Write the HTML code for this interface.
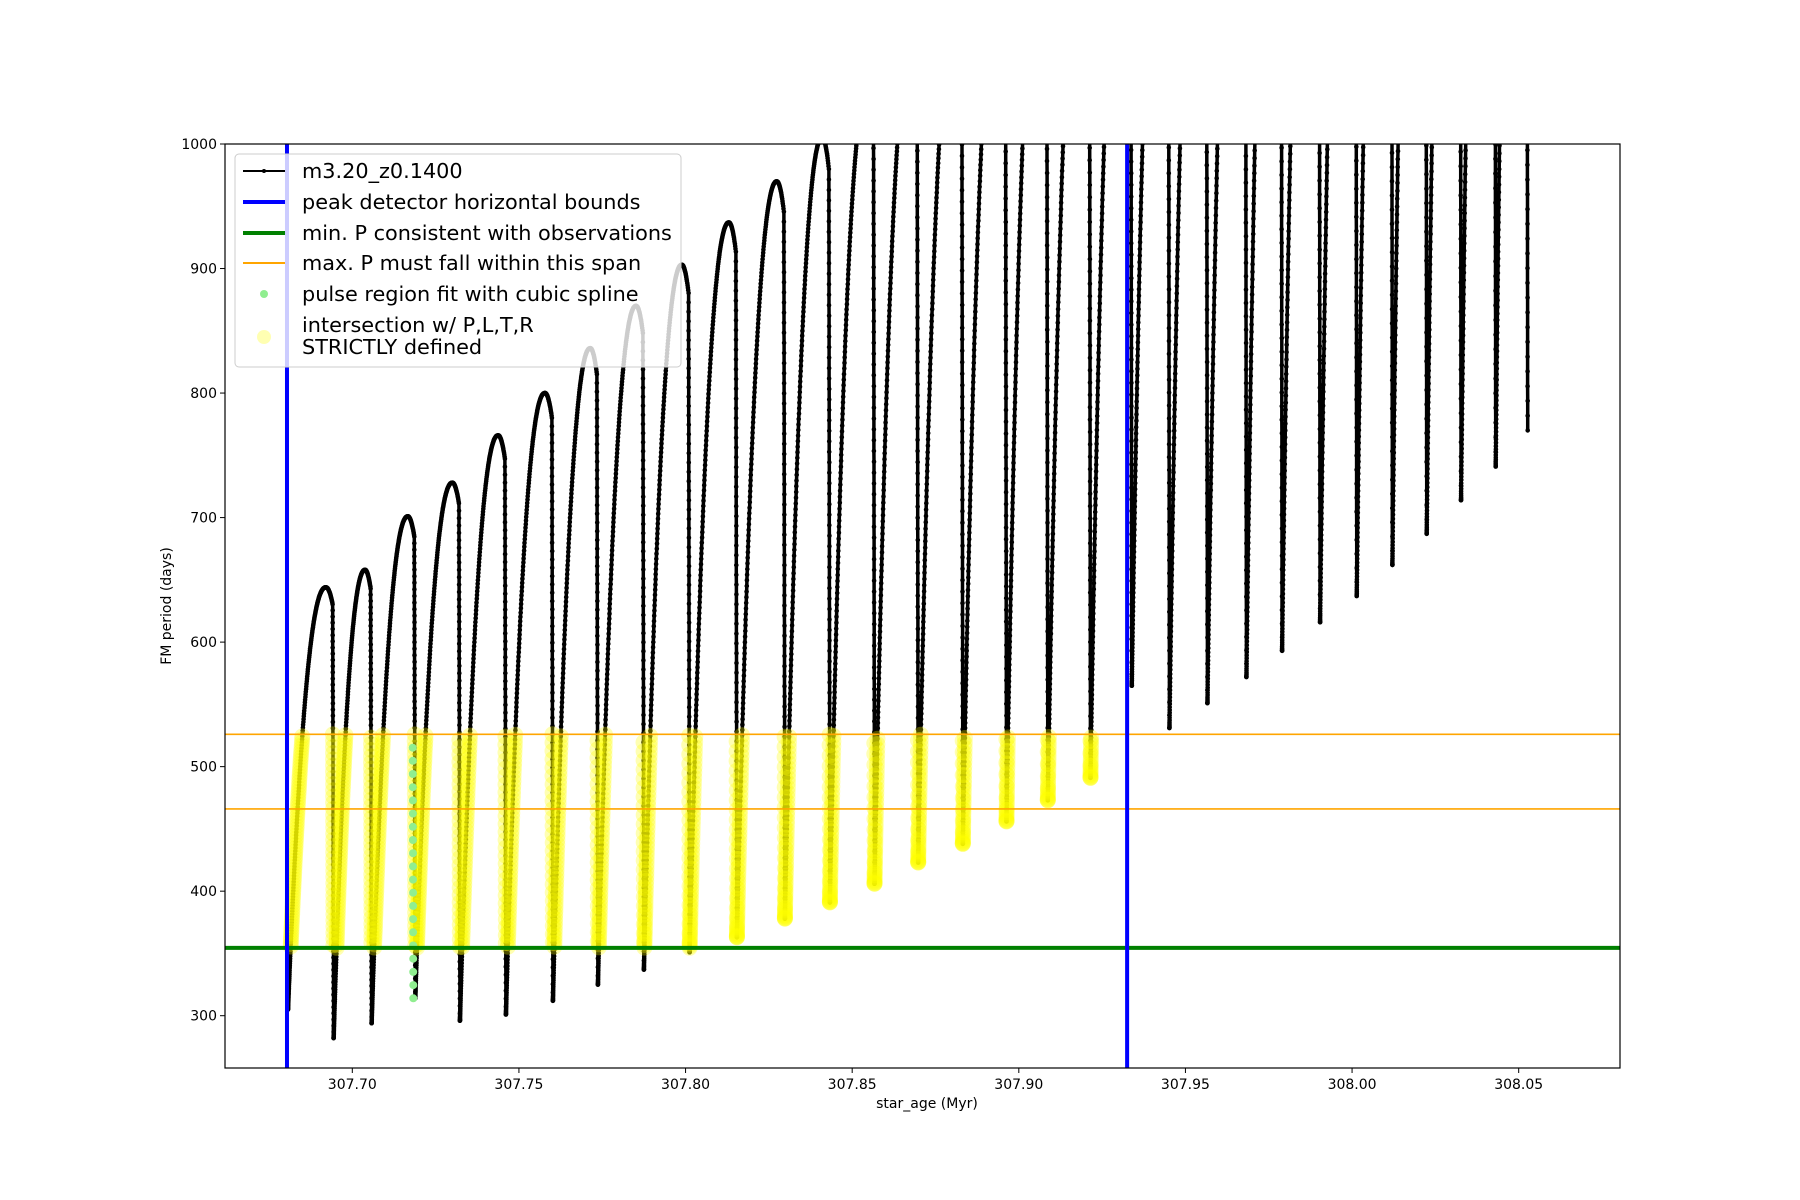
<!DOCTYPE html>
<html><head><meta charset="utf-8"><style>
html,body{margin:0;padding:0;background:#fff;}
svg{display:block;font-family:"DejaVu Sans","Liberation Sans",sans-serif;}
</style></head><body>
<svg id="chart" width="1800" height="1200" viewBox="0 0 1800 1200">
<defs><clipPath id="plotclip"><rect x="225" y="144" width="1395" height="924"/></clipPath></defs>
<rect x="0" y="0" width="1800" height="1200" fill="#fff"/>
<g id="marks" clip-path="url(#plotclip)"></g>
<rect x="225" y="144" width="1395" height="924" fill="none" stroke="#000" stroke-width="1.2"/>
<g id="axes"></g>
<text x="927" y="1108" text-anchor="middle" font-size="14">star_age (Myr)</text>
<text x="0" y="0" transform="translate(171,606) rotate(-90)" text-anchor="middle" font-size="14">FM period (days)</text>
<g>
<rect x="235" y="154" width="446" height="213" rx="4" fill="rgba(255,255,255,0.8)" stroke="#ccc" stroke-width="1"/>
<g><line x1="243" y1="171" x2="285" y2="171" stroke="#000" stroke-width="2"/><circle cx="264" cy="171" r="2" fill="#000"/><text x="302" y="178" font-size="20.8">m3.20_z0.1400</text></g>
<g><line x1="243" y1="202" x2="285" y2="202" stroke="#0000ff" stroke-width="4"/><text x="302" y="209" font-size="20.8">peak detector horizontal bounds</text></g>
<g><line x1="243" y1="233" x2="285" y2="233" stroke="#008000" stroke-width="4"/><text x="302" y="240" font-size="20.8">min. P consistent with observations</text></g>
<g><line x1="243" y1="263" x2="285" y2="263" stroke="#ffa500" stroke-width="2"/><text x="302" y="270" font-size="20.8">max. P must fall within this span</text></g>
<g><circle cx="264" cy="294" r="4" fill="#90ee90"/><text x="302" y="301" font-size="20.8">pulse region fit with cubic spline</text></g>
<g><circle cx="264" cy="337" r="7" fill="#ffff00" opacity="0.3"/><text x="302" y="332" font-size="20.8">intersection w/ P,L,T,R</text><text x="302" y="354" font-size="20.8">STRICTLY defined</text></g>
</g>
</svg>
<script>
const dropAges=[307.6804,307.6941,307.7055,307.7186,307.7320,307.7458,307.7599,307.7734,307.7872,307.8009,307.8151,307.8295,307.8430,307.8564,307.8695,307.8829,307.8960,307.9084,307.9212,307.9336,307.9449,307.9563,307.9680,307.9787,307.9901,308.0011,308.0118,308.0221,308.0324,308.0428,308.0524];
const minPeriods=[305,282,294,314,296,301,312,325,337,351,363,378,391,406,423,438,456,473,491,565,531,551,572,593,616,637,662,687,714,741,770];
const peakPeriods=[644,658,701,728,766,800,836,870,903,937,970,1005,1040,1075,1110,1145,1180,1215,1250,1285,1320,1355,1390,1425,1460,1495,1530,1565,1600,1635];
const xTicks=[307.70,307.75,307.80,307.85,307.90,307.95,308.00,308.05];
const xTickLabels=["307.70","307.75","307.80","307.85","307.90","307.95","308.00","308.05"];
const yTicks=[300,400,500,600,700,800,900,1000];
const boundAges=[307.6804,307.9325];
const minP=[354.5];
const maxPSpan=[466,526];
const splineCycle=[3];

const NS="http://www.w3.org/2000/svg";
const X0=225,X1=1620,Y0=144,Y1=1068;
const xmin=307.6618,xmax=308.0804,ymin=258,ymax=1000;
const sx=a=>X0+(a-xmin)/(xmax-xmin)*(X1-X0);
const sy=v=>Y1-(v-ymin)/(ymax-ymin)*(Y1-Y0);
function mk(tag,attrs,parent){const e=document.createElementNS(NS,tag);for(const k in attrs)e.setAttribute(k,attrs[k]);parent.appendChild(e);return e;}
const marks=document.getElementById('marks');
const axes=document.getElementById('axes');

const pts=[];
function f(u){if(u<0.85)return 1-Math.pow(1-u/0.85,2.2);const w=(u-0.85)/0.15;return 1-0.04*w*w;}
let prevEnd=null;
for(let i=0;i<dropAges.length;i++){
  const t=dropAges[i],m=minPeriods[i];
  if(prevEnd!==null){
    const n=70;
    for(let k=1;k<=n;k++){pts.push({a:t+0.0003*k/n,v:prevEnd+(m-prevEnd)*k/n,cyc:i,drop:true});}
  }
  if(i<dropAges.length-1){
    const t2=dropAges[i+1],p=peakPeriods[i],n=220;
    const ts=t+0.0003;
    for(let k=0;k<=n;k++){const s=k/n;const u=Math.pow(s,1.6);pts.push({a:ts+u*(t2-ts),v:m+(p-m)*f(u),cyc:i,drop:false});}
    prevEnd=m+(p-m)*f(1);
  }
}
let d="";pts.forEach((p,i)=>{d+=(i?"L":"M")+sx(p.a).toFixed(1)+","+sy(p.v).toFixed(1);});
const line=mk('path',{d:d,fill:'none',stroke:'#000','stroke-width':3.5,'stroke-linejoin':'round'},marks);


const dotG=mk('g',{fill:'#000'},marks);


pts.forEach((p,i)=>{mk('circle',{cx:sx(p.a).toFixed(1),cy:sy(p.v).toFixed(1),r:2.3},dotG);});
const yG=mk('g',{fill:'#ffff00','fill-opacity':0.3},marks);


pts.forEach((p,i)=>{if(p.v>=minP[0]&&p.v<=maxPSpan[1]&&p.a<=boundAges[1]+0.0005&&p.a>=boundAges[0])mk('circle',{cx:sx(p.a).toFixed(1),cy:sy(p.v).toFixed(1),r:8},yG);});
const gG=mk('g',{fill:'#90ee90'},marks);


pts.forEach((p,i)=>{if(p.cyc===splineCycle[0]&&p.drop&&p.v<522&&i%2===0)mk('circle',{cx:(sx(p.a)-2).toFixed(1),cy:sy(p.v).toFixed(1),r:4},gG);});
const g1=mk('line',{x1:X0,x2:X1,y1:sy(minP[0]),y2:sy(minP[0]),stroke:'#008000','stroke-width':4},marks);


maxPSpan.forEach((v,i)=>{const l=mk('line',{x1:X0,x2:X1,y1:sy(v),y2:sy(v),stroke:'#ffa500','stroke-width':1.6},marks);

});
boundAges.forEach(a=>{const l=mk('line',{x1:sx(a),x2:sx(a),y1:Y0,y2:Y1,stroke:'#0000ff','stroke-width':4},marks);

});
xTicks.forEach((t,i)=>{const x=sx(t);
const tk=mk('line',{x1:x,x2:x,y1:Y1,y2:Y1+5,stroke:'#000','stroke-width':1},axes);


const tx=mk('text',{x:x,y:Y1+21,'text-anchor':'middle','font-size':14},axes);tx.textContent=xTickLabels[i];

});
yTicks.forEach(v=>{const y=sy(v);
const tk=mk('line',{x1:X0-5,x2:X0,y1:y,y2:y,stroke:'#000','stroke-width':1},axes);


const tx=mk('text',{x:X0-8,y:y+5,'text-anchor':'end','font-size':14},axes);tx.textContent=String(v);

});
</script>
</body></html>
